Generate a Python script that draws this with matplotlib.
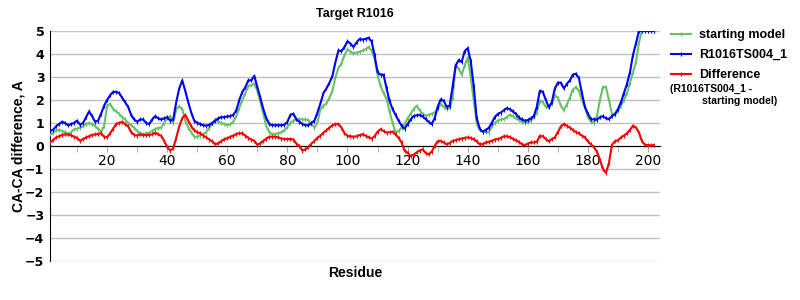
import numpy as np
import matplotlib
matplotlib.use("Agg")
import matplotlib.pyplot as plt

# per-residue CA-CA differences
residues = np.arange(1, 203)

starting_model = [
    0.5, 0.55, 0.68, 0.7, 0.65, 0.6, 0.5, 0.6, 0.72, 0.75,
    0.8, 0.85, 0.95, 1.0, 0.95, 0.85, 0.75, 0.6, 0.88, 1.75,
    1.83, 1.6, 1.5, 1.4, 1.25, 1.15, 1.0, 0.9, 0.8, 0.65,
    0.55, 0.5, 0.55, 0.58, 0.65, 0.73, 0.78, 0.8, 1.0, 1.2,
    1.3, 1.0, 1.6, 1.72, 1.6, 1.1, 0.8, 0.6, 0.4, 0.4,
    0.45, 0.52, 0.6, 0.8, 0.95, 1.15, 1.05, 1.0, 0.95, 0.9,
    0.95, 1.05, 1.3, 1.65, 2.0, 2.3, 2.6, 2.65, 2.7, 2.4,
    1.9, 1.4, 0.85, 0.6, 0.5, 0.52, 0.55, 0.6, 0.68, 0.82,
    1.0, 1.1, 1.15, 1.17, 1.15, 1.15, 1.12, 0.95, 0.8, 1.02,
    1.6, 1.75, 1.85, 2.1, 2.4, 3.0, 3.4, 3.58, 3.95, 4.2,
    4.1, 4.02, 4.05, 4.09, 4.15, 4.2, 4.3, 4.15, 3.8, 3.1,
    2.6, 2.3, 2.05, 1.5, 1.0, 0.6, 0.65, 0.8, 0.95, 1.2,
    1.4, 1.6, 1.75, 1.55, 1.4, 1.32, 1.35, 1.4, 1.45, 1.6,
    1.83, 1.7, 1.6, 1.65, 2.1, 3.5, 3.36, 3.1, 3.5, 3.85,
    3.0, 2.0, 1.0, 0.7, 0.62, 0.6, 0.58, 0.85, 1.0, 1.1,
    1.15, 1.17, 1.25, 1.35, 1.3, 1.2, 1.14, 1.05, 1.0, 1.02,
    1.1, 1.25, 1.45, 1.97, 1.9, 1.7, 1.68, 1.83, 2.2, 2.1,
    1.75, 1.55, 1.8, 2.1, 2.45, 2.56, 2.4, 2.0, 1.68, 1.25,
    1.05, 1.0, 1.3, 2.0, 2.56, 2.56, 2.0, 1.4, 1.35, 1.5,
    1.75, 2.0, 2.3, 2.75, 3.2, 3.65, 4.5, 5.0, 5.0, 5.0,
    5.0, 5.0,
]

r1016ts004_1 = [
    0.65, 0.7, 0.85, 0.95, 1.05, 1.0, 0.9, 0.95, 1.0, 1.1,
    0.93, 1.0, 1.25, 1.5, 1.3, 1.05, 1.1, 1.4, 1.75, 2.0,
    2.2, 2.35, 2.35, 2.3, 2.1, 1.9, 1.7, 1.35, 1.15, 1.05,
    1.15, 1.15, 1.0, 0.95, 1.15, 1.3, 1.2, 1.15, 1.2, 1.25,
    1.1, 1.15, 1.9, 2.5, 2.85, 2.4, 1.9, 1.45, 1.1, 1.0,
    0.95, 0.9, 0.88, 0.92, 1.0, 1.1, 1.2, 1.25, 1.25, 1.28,
    1.3, 1.35, 1.55, 2.0, 2.35, 2.55, 2.85, 2.85, 3.05, 2.55,
    2.1, 1.6, 1.2, 0.95, 0.9, 0.9, 0.9, 0.9, 0.92, 1.05,
    1.35, 1.4, 1.15, 1.05, 0.95, 0.9, 0.9, 1.0, 1.1, 1.45,
    1.85, 2.3, 2.5, 2.75, 3.05, 3.65, 4.15, 4.12, 4.3, 4.55,
    4.45, 4.3, 4.5, 4.65, 4.62, 4.65, 4.7, 4.55, 3.95, 3.2,
    3.1, 3.1, 2.5, 1.95, 1.6, 1.35, 1.1, 0.88, 0.75, 0.95,
    1.15, 1.3, 1.33, 1.35, 1.28, 1.17, 1.05, 0.95, 1.2, 1.7,
    2.02, 1.97, 1.7, 1.75, 2.6, 3.5, 3.73, 3.65, 4.12, 4.25,
    3.7, 2.6, 1.2, 0.75, 0.62, 0.7, 0.78, 1.0, 1.25, 1.39,
    1.45, 1.55, 1.64, 1.6, 1.5, 1.4, 1.24, 1.15, 1.1, 1.12,
    1.2, 1.3, 1.7, 2.4, 2.35, 2.0, 1.68, 1.9, 2.5, 2.75,
    2.75, 2.5, 2.7, 2.85, 3.1, 3.14, 2.95, 2.3, 1.7, 1.4,
    1.17, 1.15, 1.14, 1.25, 1.29, 1.2, 1.17, 1.3, 1.39, 1.6,
    1.9, 2.3, 2.7, 3.2, 3.95, 4.46, 5.0, 5.0, 5.0, 5.0,
    5.0, 5.0,
]

difference = [
    0.15, 0.25, 0.37, 0.42, 0.48, 0.5, 0.5, 0.46, 0.4, 0.35,
    0.22, 0.3, 0.37, 0.42, 0.48, 0.5, 0.52, 0.55, 0.4, 0.38,
    0.55, 0.75, 0.95, 1.0, 1.05, 0.95, 0.85, 0.6, 0.48, 0.45,
    0.5, 0.47, 0.47, 0.48, 0.5, 0.58, 0.5, 0.44, 0.22, -0.05,
    -0.2, -0.1, 0.35, 0.85, 1.2, 1.35, 1.1, 0.85, 0.68, 0.6,
    0.55, 0.45, 0.37, 0.28, 0.2, 0.07, 0.12, 0.2, 0.3, 0.33,
    0.4, 0.45, 0.52, 0.55, 0.55, 0.45, 0.35, 0.28, 0.22, 0.05,
    0.12, 0.22, 0.32, 0.4, 0.4, 0.4, 0.37, 0.32, 0.3, 0.3,
    0.3, 0.28, 0.1, 0.0, -0.2, -0.15, -0.05, 0.1, 0.22, 0.35,
    0.45, 0.58, 0.68, 0.8, 0.9, 0.95, 0.95, 0.8, 0.55, 0.44,
    0.42, 0.4, 0.42, 0.47, 0.5, 0.45, 0.38, 0.32, 0.42, 0.62,
    0.73, 0.65, 0.58, 0.6, 0.62, 0.5, 0.35, 0.15, -0.2, -0.3,
    -0.44, -0.38, -0.28, -0.2, -0.15, -0.3, -0.37, -0.25, 0.0, 0.2,
    0.22, 0.15, 0.07, 0.12, 0.22, 0.25, 0.29, 0.32, 0.35, 0.37,
    0.35, 0.29, 0.2, 0.07, 0.08, 0.15, 0.18, 0.22, 0.28, 0.3,
    0.35, 0.42, 0.42, 0.38, 0.32, 0.25, 0.18, 0.08, 0.03, 0.1,
    0.15, 0.15, 0.18, 0.44, 0.42, 0.3, 0.2, 0.3, 0.37, 0.6,
    0.85, 0.95, 0.88, 0.8, 0.7, 0.6, 0.55, 0.45, 0.37, 0.2,
    0.07, -0.05, -0.25, -0.6, -1.0, -1.17, -0.75, 0.05, 0.2, 0.25,
    0.37, 0.45, 0.55, 0.7, 0.88, 0.8, 0.58, 0.2, 0.05, 0.03,
    0.03, 0.03,
]

x_ticks = list(range(20, 201, 20))
y_ticks = list(range(-5, 6))

fig = plt.figure(figsize=(8, 3), dpi=100)
ax = fig.add_axes([0.0625, 0.13, 0.7625, 0.767])

ax.plot(residues, starting_model, color="#66c266", lw=1.5, marker="|", ms=3,
        mew=0.8, label="starting model", zorder=3)
ax.plot(residues, r1016ts004_1, color="#0000ff", lw=1.5, marker="|", ms=3,
        mew=0.8, label="R1016TS004_1", zorder=4)
ax.plot(residues, difference, color="#ff0000", lw=1.5, marker="|", ms=3,
        mew=0.8, label="Difference", zorder=5)

ax.set_xlim(1, 204)
ax.set_ylim(-5, 5)
ax.set_yticks(y_ticks)
ax.set_yticklabels([str(v).replace("-", "\u2212") for v in y_ticks],
                   fontweight="bold", fontsize=9, family="DejaVu Sans")
ax.set_xticks(x_ticks)
ax.set_xticklabels([str(v) for v in x_ticks], fontweight="bold", fontsize=9,
                   family="DejaVu Serif")
ax.set_xticks(range(10, 201, 20), minor=True)
ax.tick_params(axis="x", which="both", length=4, color="#aaaaaa", pad=2)
ax.tick_params(axis="y", length=0, pad=4)

ax.grid(axis="y", color="#c0c0c0", lw=1)
ax.set_axisbelow(True)
for side in ["top", "right"]:
    ax.spines[side].set_visible(False)
ax.spines["bottom"].set_position(("data", 0))
ax.spines["bottom"].set_color("black")
ax.spines["left"].set_color("black")

ax.set_title("Target R1016", fontsize=9, fontweight="bold",
             family="Liberation Sans", pad=10)
ax.set_xlabel("Residue", fontsize=10, fontweight="bold",
              family="Liberation Sans")
ax.xaxis.set_label_coords(0.5, -0.02)
ax.set_ylabel("CA-CA difference, A", fontsize=10, fontweight="bold",
              family="Liberation Sans", labelpad=0)

leg = ax.legend(loc="upper left", bbox_to_anchor=(1.0, 1.055), frameon=False,
                handlelength=1.6, handletextpad=0.6, labelspacing=0.62,
                prop={"family": "Liberation Sans", "weight": "bold", "size": 9})
fig.text(0.8375, 0.703, "(R1016TS004_1 -", fontsize=7.5, fontweight="bold",
         family="Liberation Sans", va="center")
fig.text(0.8775, 0.665, "starting model)", fontsize=7.5, fontweight="bold",
         family="Liberation Sans", va="center")

fig.savefig("out.png", dpi=100)
